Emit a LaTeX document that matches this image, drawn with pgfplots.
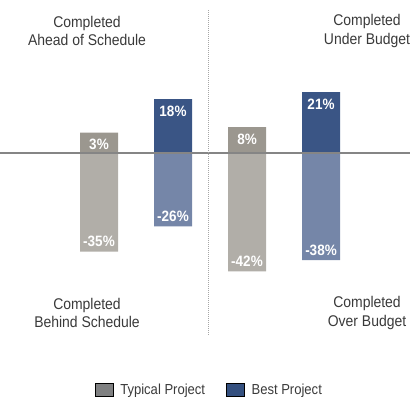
\documentclass[border=0pt]{standalone}
\usepackage{pgfplots}
\pgfplotsset{compat=1.18}
\usepackage{fontspec}
\setmainfont{Liberation Sans}[FakeStretch=0.9]
\definecolor{typPos}{HTML}{9B978F}
\definecolor{typNeg}{HTML}{B1AEA8}
\definecolor{bestPos}{HTML}{3A5585}
\definecolor{bestNeg}{HTML}{7586A8}
\definecolor{typLeg}{HTML}{7F8081}
\definecolor{bestLeg}{HTML}{34507F}
\definecolor{headGray}{HTML}{3A3A3A}
\definecolor{zeroGray}{HTML}{858585}
\pgfplotsset{
  mybar/.style={ybar, bar width=38pt, bar shift=0pt, draw=none, forget plot,
    nodes near coords={\pgfplotspointmeta\%}, point meta=explicit symbolic,
    every node near coord/.append style={font=\fontsize{15}{15}\selectfont\bfseries, text=white, anchor=center}},
  poslab/.style={every node near coord/.append style={yshift=-12pt}},
  neglab/.style={every node near coord/.append style={yshift=10pt}},
}
\begin{document}
\begin{tikzpicture}
\begin{axis}[
  scale only axis, width=413pt, height=401pt,
  xmin=-1.3378, xmax=4.2432, ymin=-87.94, ymax=54.26,
  axis lines=none, ticks=none, clip=false,
  legend style={at={(0.507,0.027)}, anchor=center, draw=none, fill=none,
    legend columns=2, font=\fontsize{14.5}{14.5}\selectfont\color{headGray},
    /tikz/every odd column/.append style={column sep=5pt},
    /tikz/every even column/.append style={column sep=19pt},
    legend cell align=left},
  legend image code/.code={\fill[#1] (0pt,-6.5pt) rectangle (18pt,6.5pt);},
]
% Typical Project
\addplot[mybar, poslab, fill=typPos] table[meta=lab] {
x y lab
0 7.2 3
2 9.2 8
};
\addplot[mybar, neglab, fill=typNeg] table[meta=lab] {
x y lab
0 -35 -35
2 -42 -42
};
% Best Project
\addplot[mybar, poslab, fill=bestPos] table[meta=lab] {
x y lab
1 19.1 18
3 21.6 21
};
\addplot[mybar, neglab, fill=bestNeg] table[meta=lab] {
x y lab
1 -26 -26
3 -38 -38
};
% zero line
\addplot[forget plot, no markers, draw=zeroGray, line width=1.3pt] coordinates {(-1.3378,0) (4.2,0)};
% divider
\addplot[forget plot, no markers, draw=gray!70, line width=0.7pt, dash pattern=on 0.7pt off 1.3pt] coordinates {(1.473,50.7) (1.473,-64.5)};
\addlegendimage{fill=typLeg}
\addlegendentry{Typical Project}
\addlegendimage{fill=bestLeg}
\addlegendentry{Best Project}
\node[align=center, font=\fontsize{15.5}{18.5}\selectfont, text=headGray] at (axis cs:-0.162,43.3) {Completed\\Ahead of Schedule};
\node[align=center, font=\fontsize{15.5}{18.5}\selectfont, text=headGray] at (axis cs:3.622,43.3) {Completed\\Under Budget};
\node[align=center, font=\fontsize{15.5}{18.5}\selectfont, text=headGray] at (axis cs:-0.162,-56.7) {Completed\\Behind Schedule};
\node[align=center, font=\fontsize{15.5}{18.5}\selectfont, text=headGray] at (axis cs:3.622,-56.7) {Completed\\Over Budget};
\coordinate (SW) at (rel axis cs:0,0);
\coordinate (NE) at (rel axis cs:1,1);
\end{axis}
\pgfresetboundingbox
\path[use as bounding box] (SW) rectangle (NE);
\end{tikzpicture}
\end{document}
